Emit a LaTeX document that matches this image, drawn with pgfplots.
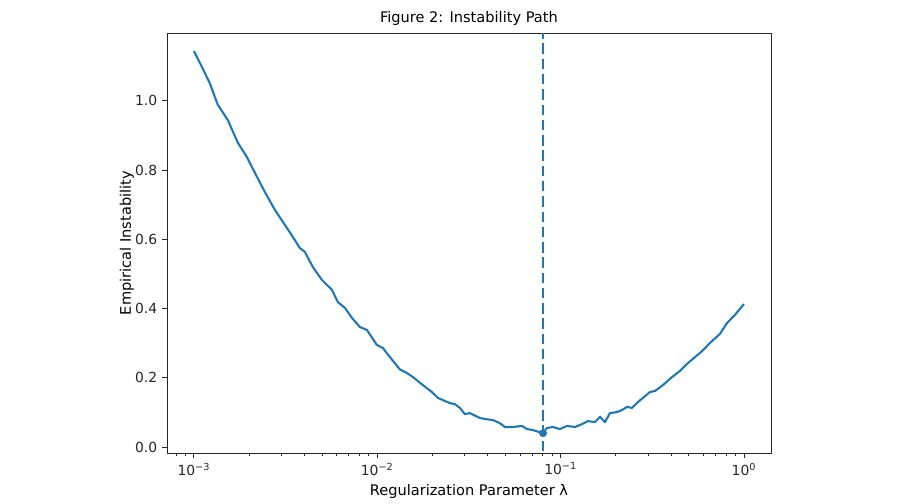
\documentclass[border=0pt]{standalone}
\usepackage{fontspec}
\setmainfont{DejaVu Sans}
\usepackage{pgfplots}
\usepackage{pgfplotstable}
\pgfplotsset{compat=1.18}
\definecolor{tabblue}{HTML}{1F77B4}
\pgfplotstableread{
logl y
-3.000 1.144
-2.956 1.098
-2.913 1.051
-2.869 0.988
-2.815 0.945
-2.760 0.879
-2.711 0.838
-2.667 0.792
-2.613 0.737
-2.558 0.685
-2.504 0.642
-2.476 0.620
-2.422 0.575
-2.395 0.564
-2.351 0.520
-2.302 0.483
-2.247 0.454
-2.215 0.419
-2.176 0.402
-2.138 0.373
-2.095 0.347
-2.056 0.338
-2.002 0.295
-1.969 0.286
-1.931 0.260
-1.876 0.224
-1.838 0.214
-1.805 0.202
-1.751 0.179
-1.702 0.159
-1.669 0.142
-1.604 0.127
-1.576 0.124
-1.549 0.113
-1.522 0.095
-1.495 0.098
-1.440 0.084
-1.413 0.081
-1.369 0.078
-1.331 0.069
-1.304 0.058
-1.260 0.058
-1.211 0.061
-1.184 0.052
-1.151 0.049
-1.096 0.040
-1.075 0.055
-1.042 0.058
-1.004 0.052
-0.965 0.061
-0.922 0.058
-0.884 0.066
-0.851 0.075
-0.813 0.072
-0.785 0.087
-0.758 0.072
-0.731 0.098
-0.693 0.101
-0.665 0.107
-0.638 0.116
-0.611 0.113
-0.578 0.130
-0.551 0.142
-0.513 0.159
-0.485 0.162
-0.442 0.179
-0.393 0.202
-0.349 0.220
-0.311 0.240
-0.267 0.260
-0.229 0.277
-0.185 0.301
-0.131 0.327
-0.093 0.358
-0.049 0.382
0.000 0.413
}\datatable
\begin{document}
\begin{tikzpicture}
\begin{axis}[
  name=ax,
  scale only axis,
  width=434.9pt, height=302.4pt,
  xmode=log,
  xmin=0.000713, xmax=1.403,
  ymin=-0.0173, ymax=1.196,
  axis line style={black!85, line width=0.6pt},
  tick align=outside,
  xtick pos=bottom, ytick pos=left,
  major tick length=3.5pt, minor tick length=2pt,
  every tick/.style={black!85, line width=0.6pt},
  xtick={0.001,0.01,0.1,1},
  minor xtick={0.0008,0.0009,0.002,0.003,0.004,0.005,0.006,0.007,0.008,0.009,0.02,0.03,0.04,0.05,0.06,0.07,0.08,0.09,0.2,0.3,0.4,0.5,0.6,0.7,0.8,0.9},
  xticklabels={10\textsuperscript{−3},10\textsuperscript{−2},10\textsuperscript{−1},10\textsuperscript{0}},
  ytick={0,0.2,0.4,0.6,0.8,1.0},
  yticklabel style={/pgf/number format/fixed,/pgf/number format/precision=1,/pgf/number format/fixed zerofill,/pgf/number format/assume math mode=true},
  tick label style={font=\fontsize{10}{12}\selectfont, black!85},
  label style={font=\fontsize{10.5}{12}\selectfont},
  xlabel={Regularization Parameter λ},
  ylabel={Empirical Instability},
  ylabel style={yshift=-6pt},
  title={Figure 2: Instability Path},
  title style={font=\fontsize{10.5}{12}\selectfont, yshift=-4pt},
  clip=true,
]
\addplot[tabblue, line width=1.5pt, line join=round] table[x expr={10^(\thisrow{logl})}, y=y]{\datatable};
\addplot[tabblue, line width=1.5pt, dash pattern=on 7.5pt off 3.5pt] coordinates {(0.0802,-0.1) (0.0802,1.3)};
\addplot[tabblue, only marks, mark=*, mark size=2.6pt] coordinates {(0.0802,0.040)};
\end{axis}
\path[use as bounding box] ([xshift=-120.2pt,yshift=-30.2pt]ax.south west) rectangle ([xshift=110.2pt,yshift=23.8pt]ax.north east);
\end{tikzpicture}
\end{document}
